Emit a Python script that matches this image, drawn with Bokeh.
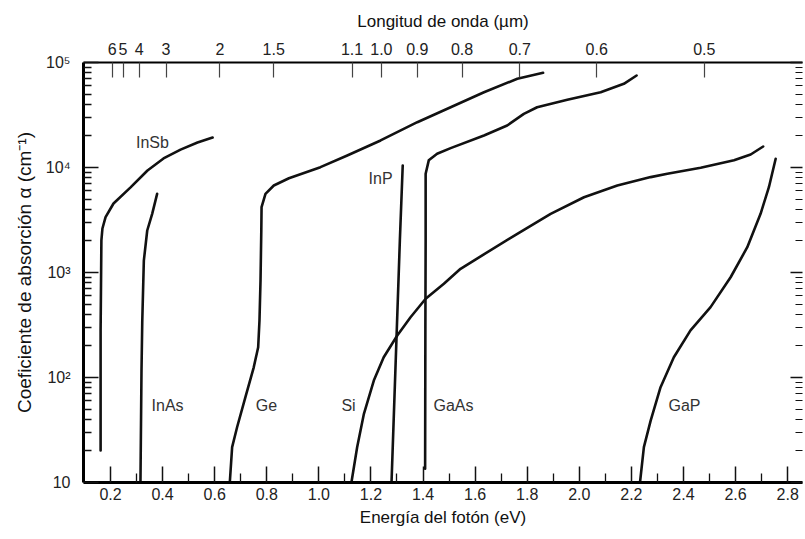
from bokeh.plotting import figure
from bokeh.models import Range1d, LinearAxis, LogAxis, FixedTicker, ColumnDataSource
from bokeh.core.properties import value
from bokeh.embed import file_html
from bokeh.resources import INLINE

# ---------------- data (photon energy in eV, absorption coefficient in cm^-1) ----------------
insb_E = [0.162, 0.162, 0.165, 0.169, 0.181, 0.2115, 0.277, 0.342, 0.4035, 0.469, 0.534, 0.592]
insb_a = [20.2, 281, 2020, 2625, 3365, 4540, 6460, 9360, 12200, 14800, 17300, 19300]

inas_E = [0.315, 0.319, 0.322, 0.328, 0.341, 0.360, 0.379]
inas_a = [10, 117, 349, 1300, 2512, 3620, 5610]

ge_E = [0.658, 0.667, 0.686, 0.718, 0.750, 0.767, 0.772, 0.776, 0.779, 0.780, 0.795, 0.827,
        0.885, 1.006, 1.109, 1.237, 1.378, 1.506, 1.634, 1.762, 1.861]
ge_a = [10, 21.7, 33.6, 64.9, 125, 194, 349, 840, 2512, 4190, 5610, 6740,
        7900, 10070, 13000, 18100, 27000, 37500, 52100, 70000, 79800]

si_E = [1.125, 1.147, 1.173, 1.211, 1.249, 1.301, 1.352, 1.410, 1.480, 1.544, 1.595, 1.762,
        1.890, 2.018, 2.146, 2.274, 2.338, 2.466, 2.594, 2.658, 2.706]
si_a = [10, 21.7, 45.1, 93.6, 156, 251, 375, 562, 780, 1084, 1300, 2335,
        3620, 5210, 6740, 8100, 8710, 9930, 11700, 13300, 15850]

inp_E = [1.279, 1.311, 1.322]
inp_a = [10, 2020, 10450]

gaas_E = [1.408, 1.409, 1.410, 1.410, 1.422, 1.454, 1.506, 1.634, 1.723, 1.787, 1.838, 1.954,
          2.082, 2.171, 2.220]
gaas_a = [13.5, 300, 2020, 8710, 11700, 13500, 15300, 20200, 25100, 32400, 37500, 44200,
          52100, 62700, 75200]

gap_E = [2.233, 2.248, 2.274, 2.312, 2.363, 2.427, 2.504, 2.581, 2.645, 2.696, 2.728, 2.754]
gap_a = [10, 21.7, 38.9, 80.9, 156, 281, 468, 901, 1742, 3620, 6490, 12100]

label_names = ["InSb", "InAs", "Ge", "Si", "InP", "GaAs", "GaP"]
label_E = [0.361, 0.419, 0.799, 1.114, 1.237, 1.517, 2.404]
label_a = [17300, 54, 54, 54, 7850, 54, 54]

# axis ticks
energy_ticks = [0.2, 0.4, 0.6, 0.8, 1.0, 1.2, 1.4, 1.6, 1.8, 2.0, 2.2, 2.4, 2.6, 2.8]
energy_labels = ["0.2", "0.4", "0.6", "0.8", "1.0", "1.2", "1.4", "1.6", "1.8", "2.0",
                 "2.2", "2.4", "2.6", "2.8"]
energy_minor = [0.3, 0.5, 0.7, 0.9, 1.1, 1.3, 1.5, 1.7, 1.9, 2.1, 2.3, 2.5, 2.7]

wavelength_ticks = [6, 5, 4, 3, 2, 1.5, 1.1, 1.0, 0.9, 0.8, 0.7, 0.6, 0.5]
wavelength_labels = ["6", "5", "4", "3", "2", "1.5", "1.1", "1.0", "0.9", "0.8", "0.7", "0.6", "0.5"]

alpha_ticks = [10, 100, 1000, 10000, 100000]
alpha_labels = ["10", "10²", "10³", "10⁴", "10⁵"]
alpha_mantissas = [2, 3, 4, 5, 6, 7, 8, 9]

FONT = "Liberation Sans"

p = figure(width=805, height=539,
           x_range=Range1d(0.0963, 2.857), y_range=Range1d(10, 1e5),
           y_axis_type="log", output_backend="svg", toolbar_location=None,
           min_border_left=83, min_border_right=3, min_border_top=62, min_border_bottom=57)
p.outline_line_color = None
p.xgrid.grid_line_color = None
p.ygrid.grid_line_color = None
p.background_fill_color = "white"
p.border_fill_color = "white"

curve_kw = dict(line_color="#111111", line_width=2.6, line_join="round", line_cap="round")
for E, a in [(insb_E, insb_a), (inas_E, inas_a), (ge_E, ge_a), (si_E, si_a),
             (inp_E, inp_a), (gaas_E, gaas_a), (gap_E, gap_a)]:
    p.line(E, a, **curve_kw)

src = ColumnDataSource(dict(x=label_E, y=label_a, t=label_names))
p.text(x="x", y="y", text="t", source=src, text_align="center", text_baseline="middle",
       text_font=value(FONT), text_font_size="16px", text_color="#333333")

# bottom axis
xa = p.xaxis[0]
xa.ticker = FixedTicker(ticks=energy_ticks, minor_ticks=energy_minor)
xa.major_label_overrides = {t: l for t, l in zip(energy_ticks, energy_labels)}
xa.axis_label = "Energía del fotón (eV)"

# left axis
minor_alpha = [m * d for d in alpha_ticks[:-1] for m in alpha_mantissas]
ya = p.yaxis[0]
ya.ticker = FixedTicker(ticks=alpha_ticks, minor_ticks=minor_alpha)
ya.major_label_overrides = {t: l for t, l in zip(alpha_ticks, alpha_labels)}
ya.axis_label = "Coeficiente de absorción α (cm⁻¹)"

# right axis (ticks only)
ra = LogAxis(ticker=FixedTicker(ticks=alpha_ticks, minor_ticks=minor_alpha))
ra.major_label_text_font_size = "2px"
ra.major_label_text_color = None
ra.major_label_standoff = 0
ra.axis_line_color = None
p.add_layout(ra, "right")

# top axis: wavelength, E = 1.24 / lambda
top_E = [1.24 / w for w in wavelength_ticks]
ta = LinearAxis(ticker=FixedTicker(ticks=top_E, minor_ticks=[]))
ta.major_label_overrides = {t: l for t, l in zip(top_E, wavelength_labels)}
ta.axis_label = "Longitud de onda (µm)"
p.add_layout(ta, "above")

for ax in [xa, ya, ra, ta]:
    ax.major_tick_out = 0
    ax.minor_tick_out = 0
    ax.major_tick_line_color = "#111111"
    ax.minor_tick_line_color = "#111111"
    ax.major_label_text_font = FONT
    ax.axis_label_text_font = FONT
    ax.axis_label_text_font_style = "normal"
    ax.axis_label_text_color = "#111111"
    ax.axis_label_text_font_size = "17px"

for ax in [xa, ta, ya]:
    ax.major_label_text_font_size = "16px"
    ax.major_label_text_color = "#222222"
ya.axis_label_text_font_size = "19px"

xa.axis_line_width = 3
xa.major_tick_in = 16
xa.minor_tick_in = 9
xa.major_tick_line_width = 1.5
xa.minor_tick_line_width = 1.3
xa.major_label_standoff = 5
xa.axis_label_standoff = 5

ya.axis_line_width = 3
ya.major_tick_in = 15
ya.minor_tick_in = 8
ya.major_tick_line_width = 1.5
ya.minor_tick_line_width = 1.3
ya.major_label_standoff = 13
ya.axis_label_standoff = 8

ra.major_tick_in = 12
ra.minor_tick_in = 7
ra.major_tick_line_width = 1.3
ra.minor_tick_line_width = 1.2

ta.axis_line_width = 2
ta.major_tick_in = 15
ta.major_tick_line_width = 1.2
ta.major_tick_line_color = "#444444"
ta.minor_tick_in = 0
ta.major_label_standoff = 8
ta.axis_label_standoff = 9

open("out.html", "w").write(file_html(p, INLINE))
